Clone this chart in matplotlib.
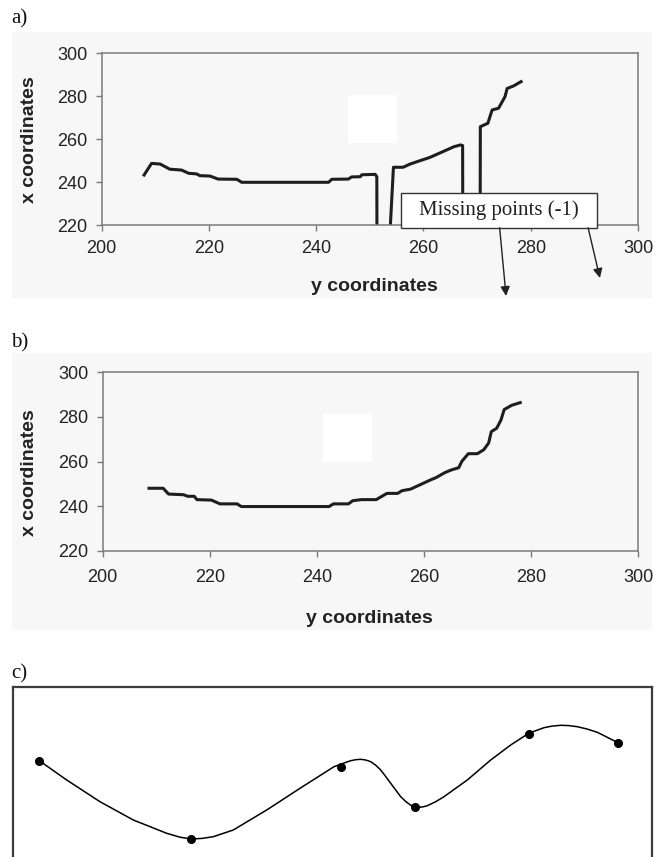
import matplotlib
matplotlib.use('Agg')
import matplotlib.pyplot as plt
from matplotlib.patches import Rectangle

plt.rcParams['font.family'] = ['Liberation Sans', 'DejaVu Sans']

W, H = 669, 857
BG = '#f7f7f7'
LINE = '#1e1e1e'
SPINE = '#7a7a7a'

# a) tracked contour, -1 = missing point
a_y = [207.9, 209.3, 210.9, 212.7, 214.9, 216.2, 217.7, 218.3, 220.2, 221.7,
       225.2, 226.1, 242.3, 242.9, 246.0, 246.6, 248.2, 248.5, 251.0, 251.3,
       251.5, 253.8, 253.85, 254.4, 256.2, 257.5, 259.4, 261.2, 264.0, 265.7,
       266.9, 267.3, 267.5, 270.4, 270.6, 272.0, 272.8, 274.0, 275.2, 275.6,
       276.8, 278.2]
a_x = [243.3, 248.7, 248.4, 246.0, 245.6, 244.1, 243.8, 243.0, 242.8, 241.4,
       241.3, 239.9, 239.9, 241.3, 241.4, 242.4, 242.5, 243.4, 243.6, 242.5,
       -1, -1, 221.0, 246.9, 246.9, 248.4, 250.0, 251.5, 254.6, 256.5,
       257.3, 257.0, -1, -1, 265.8, 267.4, 273.6, 274.4, 279.8, 283.6,
       284.8, 286.8]

# b) corrected contour
b_y = [208.65, 211.3, 212.3, 215.1, 215.9, 217.1, 217.6, 220.3, 221.9, 225.1,
       225.9, 242.3, 243.1, 245.9, 246.7, 248.3, 251.1, 252.3, 253.1, 255.1,
       255.9, 257.5, 259.5, 261.1, 262.3, 263.9, 265.1, 266.5, 267.1, 268.3,
       270.0, 271.2, 272.1, 272.6, 273.6, 274.4, 275.0, 276.4, 278.0]
b_x = [248.0, 248.0, 245.4, 245.1, 244.4, 244.4, 242.9, 242.7, 241.0, 241.0,
       239.8, 239.8, 241.0, 241.0, 242.4, 242.9, 242.9, 244.6, 245.7, 245.7,
       246.9, 247.6, 249.8, 251.6, 252.8, 255.0, 256.2, 257.2, 260.1, 263.5,
       263.5, 265.3, 268.3, 273.4, 274.9, 278.6, 283.3, 285.2, 286.4]

X_TICKS = [200, 220, 240, 260, 280, 300]
Y_TICKS = [220, 240, 260, 280, 300]

# c) control points and the smooth curve through them
c_pts_x = [39.3, 191.3, 341.3, 414.7, 528.7, 618.0]
c_pts_y = [96.3, 18.0, 90.3, 49.7, 123.3, 114.3]
c_curve_x = [39.3, 66.7, 100.0, 133.3, 166.7, 180.0, 191.3, 202.0, 213.3, 233.3,
             266.7, 300.0, 334.0, 341.3, 350.7, 355.7, 360.7, 365.7, 370.7, 375.7,
             380.7, 385.7, 390.7, 395.7, 400.7, 405.7, 410.7, 414.7, 419.0, 423.2,
             427.3, 435.7, 444.0, 467.3, 490.7, 510.7, 528.7, 544.0, 552.0, 560.7,
             568.7, 577.3, 587.0, 597.3, 618.0]
c_curve_y = [96.3, 77.0, 55.3, 37.0, 23.7, 19.8, 18.0, 18.6, 20.3, 27.0,
             47.0, 68.7, 90.3, 93.0, 96.3, 97.3, 97.7, 97.0, 95.3, 91.8,
             87.0, 80.5, 73.7, 67.0, 60.3, 55.5, 51.8, 50.3, 49.7, 50.2,
             51.3, 55.3, 60.3, 77.0, 97.0, 112.0, 123.7, 129.3, 130.9, 131.7,
             131.4, 130.3, 128.0, 124.7, 114.3]


def add_axes_px(fig, left, top, right, bottom):
    return fig.add_axes([left / W, 1 - bottom / H, (right - left) / W, (bottom - top) / H])


def add_bg(fig, left, top, right, bottom):
    fig.add_artist(Rectangle((left / W, 1 - bottom / H), (right - left) / W, (bottom - top) / H,
                             transform=fig.transFigure, facecolor=BG, edgecolor='none', zorder=-5))


def style_chart(ax, xpad):
    ax.set_facecolor(BG)
    ax.set_xlim(200, 300)
    ax.set_ylim(220, 300)
    ax.set_xticks(X_TICKS)
    ax.set_yticks(Y_TICKS)
    for s in ax.spines.values():
        s.set_color(SPINE)
        s.set_linewidth(1.1)
    ax.tick_params(direction='out', length=4, width=1, color=SPINE,
                   labelsize=13, labelcolor='#222222')
    ax.tick_params(axis='y', pad=6.5)
    ax.tick_params(axis='x', pad=xpad)


fig = plt.figure(figsize=(W / 100, H / 100), dpi=100, facecolor='white')

# ---- a)
add_bg(fig, 12, 32, 652, 298)
ax_a = add_axes_px(fig, 101.7, 53.3, 638, 225)
style_chart(ax_a, 6.5)
ax_a.plot(a_y, a_x, color=LINE, lw=2.2, solid_joinstyle='round')
ax_a.add_patch(Rectangle((246, 258.1), 9, 22.5, facecolor='white', edgecolor='none'))
ax_a.set_xlabel('y coordinates', fontsize=14, fontweight='bold', color='#222222', va='center')
ax_a.set_ylabel('x coordinates', fontsize=14, fontweight='bold', color='#222222', va='center')
ax_a.xaxis.set_label_coords(0.508, -0.359)
ax_a.yaxis.set_label_coords(-0.134, 0.5)

# missing points note
ax_a.add_patch(Rectangle((255.8, 218.7), 36.6, 16.2, facecolor='white', edgecolor='#333333',
                         lw=1, clip_on=False, zorder=5))
ax_a.text(274.1, 226.8, 'Missing points (-1)', family='Liberation Serif', fontsize=15,
          color='#222222', ha='center', va='center', zorder=6)
for tail, tip in [((274.2, 218.7), (275.4, 186.9)), ((290.7, 218.7), (292.9, 195.3))]:
    ax_a.annotate('', xy=tip, xytext=tail, annotation_clip=False, zorder=6,
                  arrowprops=dict(arrowstyle='-|>', color='#222222', lw=1,
                                  mutation_scale=14, shrinkA=0, shrinkB=0))

# ---- b)
add_bg(fig, 12, 352.7, 652, 630)
ax_b = add_axes_px(fig, 102.7, 372.3, 638, 550.7)
style_chart(ax_b, 9.5)
ax_b.plot(b_y, b_x, color=LINE, lw=2.2, solid_joinstyle='round')
ax_b.add_patch(Rectangle((241.1, 259.7), 9.2, 21.6, facecolor='white', edgecolor='none'))
ax_b.set_xlabel('y coordinates', fontsize=14, fontweight='bold', color='#222222', va='center')
ax_b.set_ylabel('x coordinates', fontsize=14, fontweight='bold', color='#222222', va='center')
ax_b.xaxis.set_label_coords(0.499, -0.379)
ax_b.yaxis.set_label_coords(-0.136, 0.44)

# ---- c)
ax_c = add_axes_px(fig, 13.3, 686.7, 652.3, 875)
ax_c.set_xlim(13.3, 652.3)
ax_c.set_ylim(-18, 170.3)
ax_c.set_xticks([])
ax_c.set_yticks([])
for s in ax_c.spines.values():
    s.set_color('#3c3c3c')
    s.set_linewidth(1.6)
ax_c.plot(c_curve_x, c_curve_y, color='black', lw=1.1, solid_joinstyle='round')
ax_c.plot(c_pts_x, c_pts_y, 'o', color='black', markersize=5.5)

for label, y in [('a)', 19), ('b)', 343), ('c)', 674)]:
    fig.text(11 / W, 1 - y / H, label, family='Liberation Serif', fontsize=15,
             color='#111111', ha='left', va='center')

fig.savefig('out.png', dpi=100)
